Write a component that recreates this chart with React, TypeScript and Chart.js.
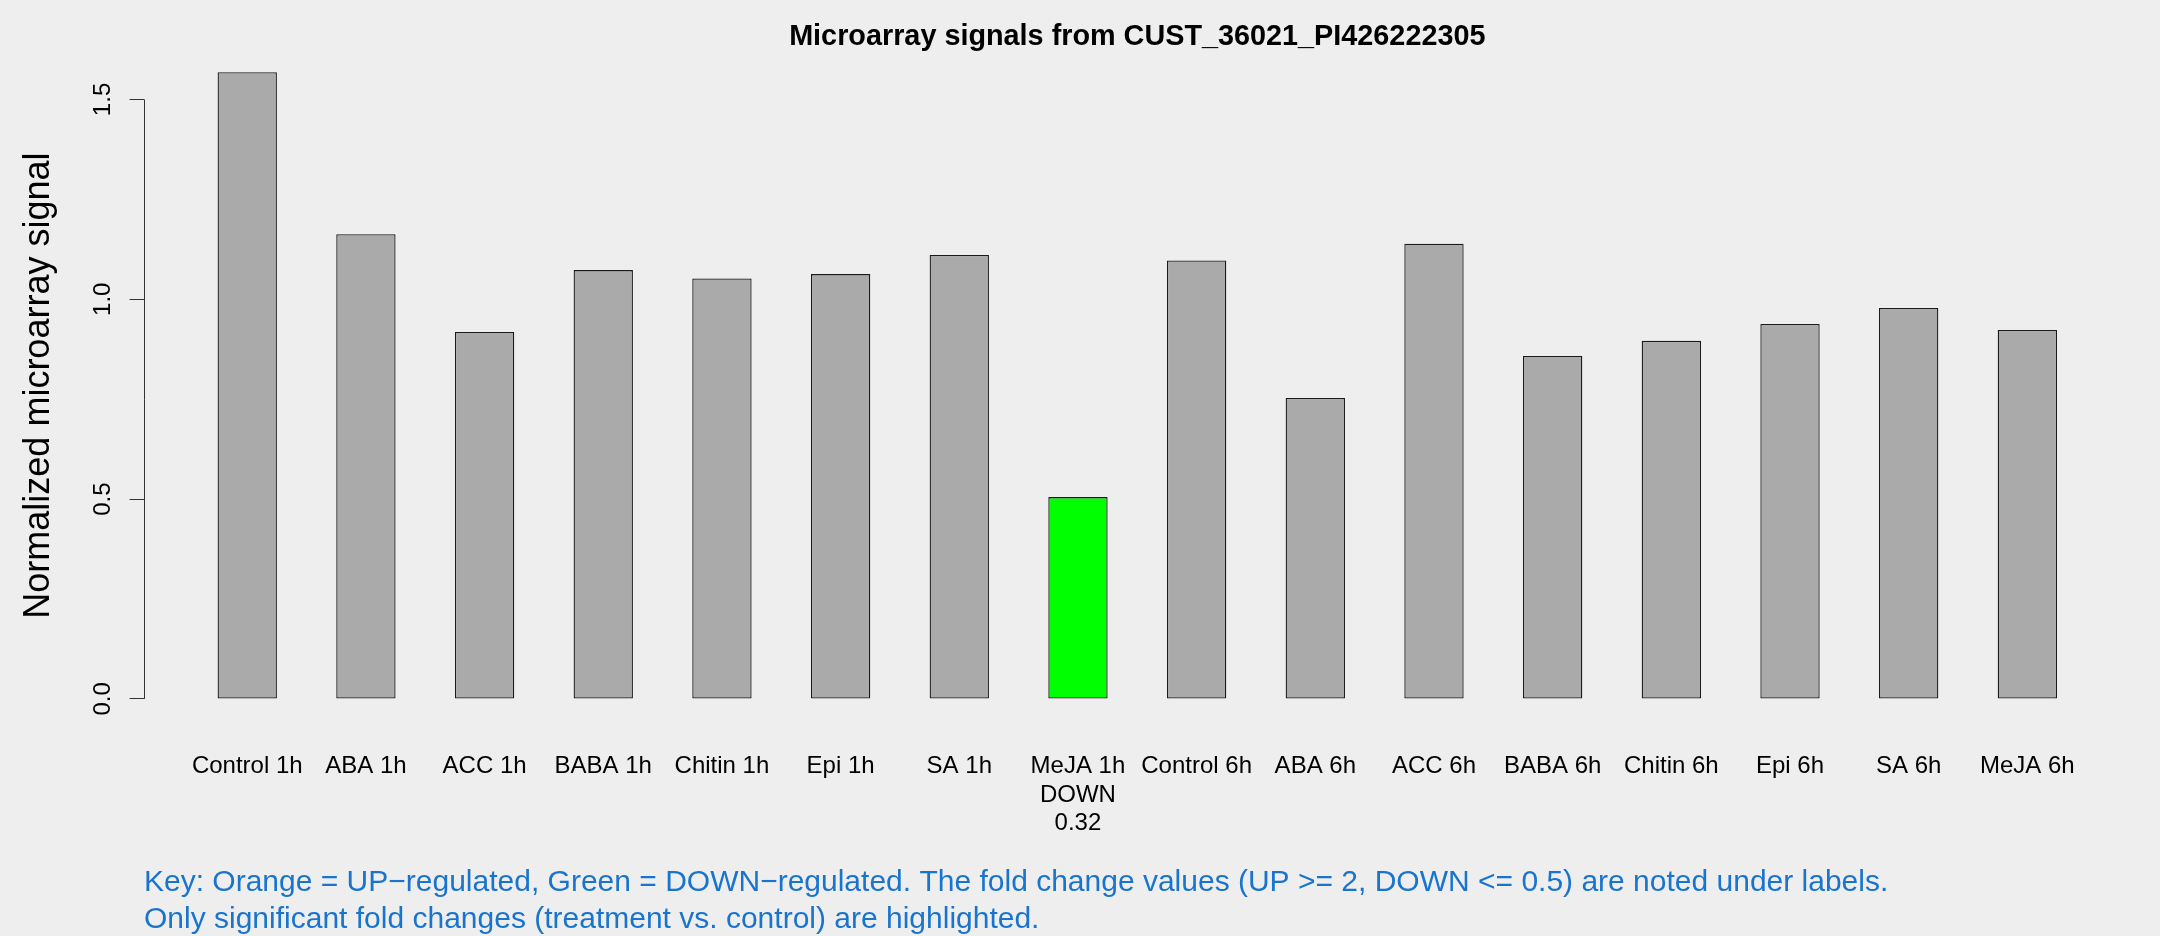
import React, { useEffect, useRef } from 'react';
import { Chart, registerables } from 'chart.js';

Chart.register(...registerables);

// ---- data ----
const categories = [
  'Control 1h', 'ABA 1h', 'ACC 1h', 'BABA 1h', 'Chitin 1h', 'Epi 1h', 'SA 1h', 'MeJA 1h',
  'Control 6h', 'ABA 6h', 'ACC 6h', 'BABA 6h', 'Chitin 6h', 'Epi 6h', 'SA 6h', 'MeJA 6h',
];
const signals = [
  1.568, 1.163, 0.918, 1.073, 1.052, 1.063, 1.111, 0.505,
  1.097, 0.753, 1.139, 0.858, 0.896, 0.938, 0.978, 0.923,
];
const regulation = ['', '', '', '', '', '', '', 'DOWN', '', '', '', '', '', '', '', ''];
const foldChanges: (number | null)[] = [null, null, null, null, null, null, null, 0.32, null, null, null, null, null, null, null, null];
const yTickValues = [0, 0.5, 1.0, 1.5];
const titleText = 'Microarray signals from CUST_36021_PI426222305';
const yAxisTitle = 'Normalized microarray signal';
const keyLines = [
  'Key: Orange = UP\u2212regulated, Green = DOWN\u2212regulated. The fold change values (UP >= 2, DOWN <= 0.5) are noted under labels.',
  'Only significant fold changes (treatment vs. control) are highlighted.',
];

// ---- styles ----
const BG = '#EEEEEE';
const BAR_GRAY = '#AAAAAA';
const REG_COLORS: Record<string, string> = { UP: '#FFA500', DOWN: '#00FF00' };
const FONT = '"Liberation Sans", Arial, Helvetica, sans-serif';

// barplot geometry (width 1, space 1), R-style 4% axis extension
const n = categories.length;
const barCenters = categories.map((_, i) => 1.5 + 2 * i);
const xLo = 1;
const xHi = 2 * n;
const xExt = 0.04 * (xHi - xLo);
const yMaxData = Math.max(...signals);
const yExt = 0.04 * yMaxData;

const tickLabels = categories.map((c, i) =>
  regulation[i] ? [c, regulation[i], (foldChanges[i] as number).toFixed(2)] : c
);

const bgPlugin = {
  id: 'bgFill',
  beforeDraw(chart: any) {
    const { ctx, width, height } = chart;
    ctx.save();
    ctx.fillStyle = BG;
    ctx.fillRect(0, 0, width, height);
    ctx.restore();
  },
};

const yAxisLinePlugin = {
  id: 'yAxisLine',
  afterDraw(chart: any) {
    const y = chart.scales.y;
    const ctx = chart.ctx;
    const x = Math.round(y.right) + 0.5;
    ctx.save();
    ctx.strokeStyle = '#333333';
    ctx.lineWidth = 1;
    ctx.beginPath();
    ctx.moveTo(x, y.getPixelForValue(yTickValues[0]));
    ctx.lineTo(x, y.getPixelForValue(yTickValues[yTickValues.length - 1]));
    ctx.stroke();
    ctx.restore();
  },
};

export default function App() {
  const ref = useRef<HTMLCanvasElement | null>(null);

  useEffect(() => {
    document.body.style.margin = '0';
    document.body.style.background = BG;
    const canvas = ref.current;
    if (!canvas) return;
    const chart = new Chart(canvas, {
      type: 'bar',
      data: {
        datasets: [
          {
            data: signals.map((v, i) => ({ x: barCenters[i], y: v })),
            backgroundColor: signals.map((_, i) => (regulation[i] ? REG_COLORS[regulation[i]] : BAR_GRAY)),
            borderColor: '#1a1a1a',
            borderWidth: 1.3,
            borderSkipped: false,
            barPercentage: 0.5,
            categoryPercentage: 1.0,
          },
        ],
      },
      options: {
        responsive: false,
        animation: false,
        devicePixelRatio: 1,
        layout: { padding: { left: 0, right: 29.4, top: 0, bottom: 0 } },
        plugins: {
          legend: { display: false },
          tooltip: { enabled: false },
          title: {
            display: true,
            text: titleText,
            fullSize: false,
            color: '#000',
            font: { family: FONT, size: 28.8, weight: 'bold', lineHeight: 1.2 },
            padding: { top: 19.7, bottom: -7.06 },
          },
          subtitle: {
            display: true,
            position: 'bottom',
            align: 'start',
            fullSize: false,
            text: keyLines,
            color: '#1874CD',
            font: { family: FONT, size: 30, weight: 'normal', lineHeight: 37 / 30 },
            padding: { top: 0, bottom: -2 },
          },
        },
        scales: {
          x: {
            type: 'linear',
            min: xLo - xExt,
            max: xHi + xExt,
            offset: false,
            grid: { display: false, drawTicks: false },
            border: { display: false },
            afterBuildTicks: (scale: any) => {
              scale.ticks = barCenters.map((v) => ({ value: v }));
            },
            afterFit: (scale: any) => {
              scale.height = 140;
            },
            ticks: {
              autoSkip: false,
              maxRotation: 0,
              minRotation: 0,
              padding: 28.5,
              color: '#000',
              font: { family: FONT, size: 24, lineHeight: 28.4 / 24 },
              callback: (_v: any, i: number) => tickLabels[i],
            },
          },
          y: {
            type: 'linear',
            min: -yExt,
            max: yMaxData + yExt,
            grid: {
              display: true,
              drawOnChartArea: false,
              drawTicks: true,
              tickLength: 14.4,
              color: '#333333',
              lineWidth: 1,
            },
            border: { display: false },
            afterBuildTicks: (scale: any) => {
              scale.ticks = yTickValues.map((v) => ({ value: v }));
            },
            afterFit: (scale: any) => {
              scale.width = 144;
            },
            ticks: {
              minRotation: 90,
              maxRotation: 90,
              crossAlign: 'center',
              padding: 9.5,
              color: '#000',
              font: { family: FONT, size: 24 },
              callback: (v: any) => Number(v).toFixed(1),
            },
            title: {
              display: true,
              text: yAxisTitle,
              color: '#000',
              font: { family: FONT, size: 36, lineHeight: 1.2 },
              padding: { top: 17.4, bottom: 0 },
            },
          },
        },
      },
      plugins: [bgPlugin, yAxisLinePlugin],
    } as any);
    return () => chart.destroy();
  }, []);

  return (
    <div style={{ position: 'absolute', left: 0, top: 0, width: 2160, height: 936, background: BG }}>
      <canvas ref={ref} width={2160} height={936} style={{ width: 2160, height: 936, display: 'block' }} />
    </div>
  );
}
